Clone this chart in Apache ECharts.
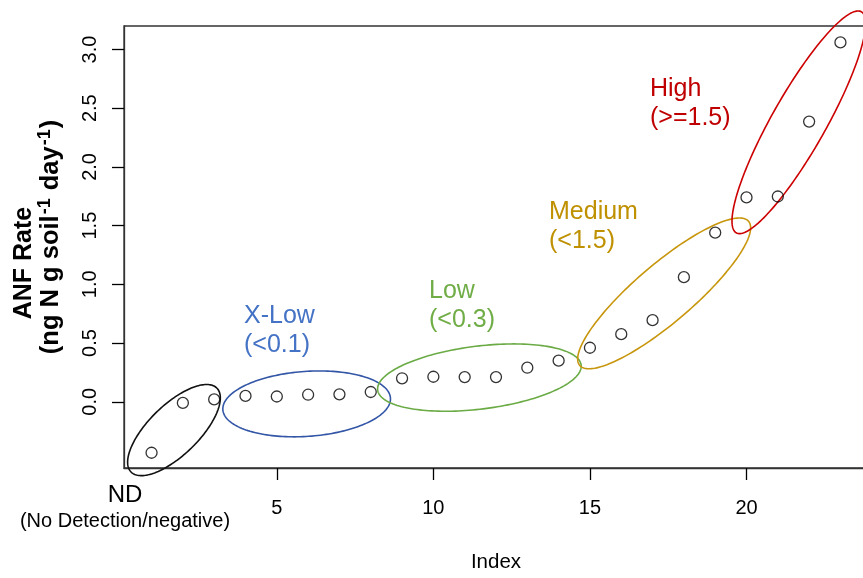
<!DOCTYPE html>
<html>
<head>
<meta charset="utf-8">
<script src="https://cdn.jsdelivr.net/npm/echarts@6/dist/echarts.min.js"></script>
<style>
html,body{margin:0;padding:0;background:#fff;}
#chart{width:863px;height:578px;}
</style>
</head>
<body>
<div id="chart"></div>
<script>
// ---- data ----
const indexValues = [1,2,3,4,5,6,7,8,9,10,11,12,13,14,15,16,17,18,19,20,21,22,23];
const anfRate = [-0.434,-0.01,0.02,0.05,0.045,0.06,0.063,0.083,0.20,0.213,0.21,0.21,0.29,0.35,0.46,0.576,0.695,1.061,1.44,1.74,1.748,2.386,3.06];
const xTicks = [5,10,15,20];
const yTicks = [0,0.5,1,1.5,2,2.5,3];
const groupNames = ['ND','X-Low','Low','Medium','High'];
const groupRanges = ['(No Detection/negative)','(<0.1)','(<0.3)','(<1.5)','(>=1.5)'];
// group ellipse centres in data units (index, rate)
const ellipseCenterX = [1.716,5.953,11.47,17.37,21.67];
const ellipseCenterY = [-0.241,-0.018,0.206,0.923,2.38];

// ---- styles (pixels) ----
const ellipseStyle = [
  {rx:60, ry:25, deg:44.3, color:'#111111'},
  {rx:84, ry:32.5, deg:4, color:'#3356a6'},
  {rx:102.5, ry:31.5, deg:7, color:'#6aab45'},
  {rx:111, ry:29, deg:40.5, color:'#c8960c'},
  {rx:127, ry:27, deg:60.5, color:'#cc0000'}
];
const textColors = ['#000','#4472c4','#70ad47','#bf9000','#c00000'];

const chart = echarts.init(document.getElementById('chart'), null, {renderer:'canvas'});
const FONT = '"Liberation Sans", Arial, Helvetica, sans-serif';

const ellipseData = ellipseCenterX.map((x,i)=>[x, ellipseCenterY[i]]);

function labelText(i, left, cy) {
  return {
    type:'text', x:left, y:cy, z:10,
    style:{
      text: groupNames[i] + '\n' + groupRanges[i],
      fill: textColors[i], fontSize:25, fontFamily:FONT,
      lineHeight:29, align:'left', verticalAlign:'middle'
    }
  };
}

const option = {
  backgroundColor:'#fff',
  animation:false,
  textStyle:{fontFamily:FONT},
  grid:{left:124, top:26, right:-5, bottom:110, show:true, borderColor:'#333', borderWidth:1.3, containLabel:false, outerBoundsMode:'none'},
  xAxis:{
    type:'value', min:0.12, max:23.88,
    name:'Index', nameLocation:'middle', nameGap:84,
    nameTextStyle:{fontSize:20.5, color:'#000', fontFamily:FONT},
    axisLine:{show:true, onZero:false, lineStyle:{color:'#333', width:1.3}},
    axisTick:{show:true, length:12, customValues:xTicks, lineStyle:{color:'#000', width:1.3}},
    axisLabel:{show:true, customValues:xTicks, fontSize:20, color:'#000', margin:30, fontFamily:FONT},
    splitLine:{show:false}
  },
  yAxis:{
    type:'value', min:-0.564, max:3.2,
    axisLine:{show:true, onZero:false, lineStyle:{color:'#333', width:1.3}},
    axisTick:{show:true, length:12, customValues:yTicks, lineStyle:{color:'#000', width:1.3}},
    axisLabel:{show:true, customValues:yTicks, rotate:90, fontSize:20, color:'#000', margin:24, fontFamily:FONT,
      formatter:(v)=>Number(v).toFixed(1)},
    splitLine:{show:false}
  },
  series:[
    {
      type:'custom', clip:false, z:1, silent:true,
      data: ellipseData,
      renderItem:function(params, api){
        const i = params.dataIndex;
        const s = ellipseStyle[i];
        const c = api.coord([api.value(0), api.value(1)]);
        const th = -s.deg*Math.PI/180;
        const pts = [];
        for (let k=0;k<=180;k++){
          const t = k/180*2*Math.PI;
          const ex = s.rx*Math.cos(t), ey = s.ry*Math.sin(t);
          pts.push([c[0] + ex*Math.cos(th) - ey*Math.sin(th), c[1] + ex*Math.sin(th) + ey*Math.cos(th)]);
        }
        return {type:'polyline', shape:{points:pts}, style:{fill:null, stroke:s.color, lineWidth:1.6}};
      }
    },
    {
      type:'scatter', clip:false, z:5,
      symbol:'circle', symbolSize:11,
      itemStyle:{color:'rgba(0,0,0,0)', borderColor:'#000', borderWidth:1.3},
      data: indexValues.map((x,i)=>[x, anfRate[i]])
    }
  ],
  graphic:[
    {type:'text', x:24, y:263, rotation:Math.PI/2, z:10,
      style:{text:'ANF Rate', font:'bold 25px '+FONT, fill:'#000', align:'center', verticalAlign:'middle'}},
    {type:'text', x:51, y:237, rotation:Math.PI/2, z:10,
      style:{text:'{b|(ng N g soil}{s|-1}{b| day}{s|-1}{b|)}', align:'center', verticalAlign:'middle',
        rich:{
          b:{fontSize:25.5, fontWeight:'bold', fontFamily:FONT, fill:'#000', color:'#000'},
          s:{fontSize:18, fontWeight:'bold', fontFamily:FONT, fill:'#000', color:'#000', padding:[0,1,12,1]}
        }}},
    {type:'text', x:125, y:495, z:10,
      style:{text:groupNames[0], font:'24px '+FONT, fill:'#000', align:'center', verticalAlign:'middle'}},
    {type:'text', x:125, y:521, z:10,
      style:{text:groupRanges[0], font:'20px '+FONT, fill:'#000', align:'center', verticalAlign:'middle'}},
    labelText(1, 244, 331),
    labelText(2, 429, 306),
    labelText(3, 549, 227),
    labelText(4, 650, 103.5)
  ]
};
chart.setOption(option);
</script>
</body>
</html>
